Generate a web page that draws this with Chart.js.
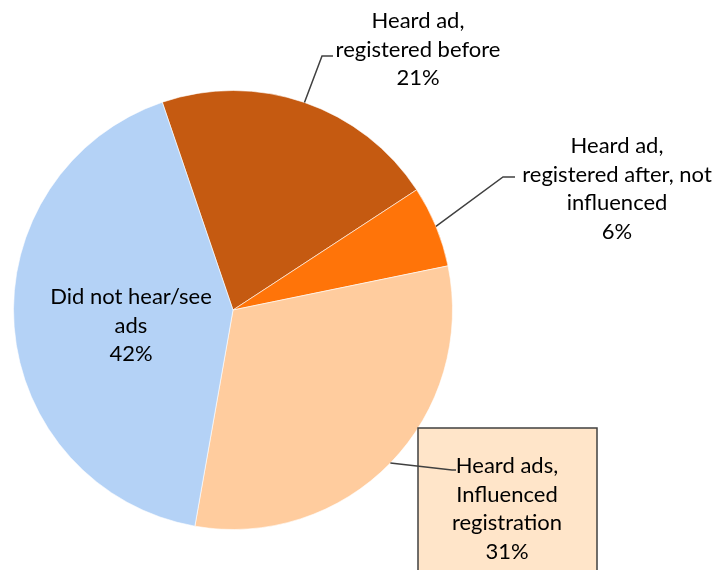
<!DOCTYPE html>
<html>
<head>
<meta charset="utf-8">
<script src="https://cdn.jsdelivr.net/npm/chart.js@4.4.1/dist/chart.umd.min.js"></script>
<style>
  html, body { margin: 0; padding: 0; background: #fff; }
  #wrap { width: 718px; height: 570px; position: relative; }
</style>
</head>
<body>
<div id="wrap"><canvas id="pieChart"></canvas></div>
<script>
// categories (label lines) and shares in percent
var categories = [
    ['Heard ad,', 'registered before'],
    ['Heard ad,', 'registered after, not', 'influenced'],
    ['Heard ads,', 'Influenced', 'registration'],
    ['Did not hear/see', 'ads']
];
var shares = [21, 6, 31, 42];

// where each label sits (text centre x, first line y) and its leader elbow
var labelLayout = [
    { x: 418, y: 21, elbow: [322, 56], end: 333 },
    { x: 617, y: 146, elbow: [503, 177], end: 515 },
    { x: 507, y: 466, elbow: [452, 470], end: 456, box: [418, 428, 179, 150] },
    { x: 131, y: 297 }
];

var FONT = '22px Lato';
var LINE_H = 28.5;

var pieLabels = {
    id: 'pieLabels',
    afterDatasetsDraw: function (chart) {
        var ctx = chart.ctx;
        var meta = chart.getDatasetMeta(0);
        ctx.save();
        meta.data.forEach(function (arc, i) {
            var lay = labelLayout[i];
            var p = arc.getProps(['x', 'y', 'startAngle', 'endAngle', 'outerRadius'], true);
            var mid = (p.startAngle + p.endAngle) / 2;
            var ax = p.x + Math.cos(mid) * p.outerRadius;
            var ay = p.y + Math.sin(mid) * p.outerRadius;

            if (lay.box) {
                ctx.fillStyle = '#FFE5C9';
                ctx.fillRect(lay.box[0], lay.box[1], lay.box[2], lay.box[3]);
                ctx.strokeStyle = '#404040';
                ctx.lineWidth = 1.5;
                ctx.strokeRect(lay.box[0], lay.box[1], lay.box[2], lay.box[3]);
            }
            if (lay.elbow) {
                ctx.strokeStyle = '#404040';
                ctx.lineWidth = 1.5;
                ctx.beginPath();
                ctx.moveTo(ax, ay);
                ctx.lineTo(lay.elbow[0], lay.elbow[1]);
                ctx.lineTo(lay.end, lay.elbow[1]);
                ctx.stroke();
            }
            var lines = categories[i].concat([shares[i] + '%']);
            ctx.fillStyle = '#000';
            ctx.font = FONT;
            ctx.textAlign = 'center';
            ctx.textBaseline = 'middle';
            lines.forEach(function (t, k) {
                ctx.fillText(t, lay.x, lay.y + k * LINE_H);
            });
        });
        ctx.restore();
    }
};

var ctxPie = document.getElementById('pieChart').getContext('2d');
window.pieChart = new Chart(ctxPie, {
    type: 'pie',
    data: {
        labels: categories.map(function (c) { return c.join(' '); }),
        datasets: [{
            data: shares,
            backgroundColor: ['#C55A11', '#FF7409', '#FFCC9E', '#B4D2F6'],
            borderColor: 'rgba(255,255,255,0.6)',
            borderWidth: 1
        }]
    },
    options: {
        responsive: true,
        maintainAspectRatio: false,
        animation: false,
        rotation: -18.8,
        layout: {
            padding: { left: 13, right: 265, top: 90, bottom: 40 }
        },
        plugins: {
            legend: { display: false },
            tooltip: { enabled: false }
        }
    },
    plugins: [pieLabels]
});
</script>
</body>
</html>
